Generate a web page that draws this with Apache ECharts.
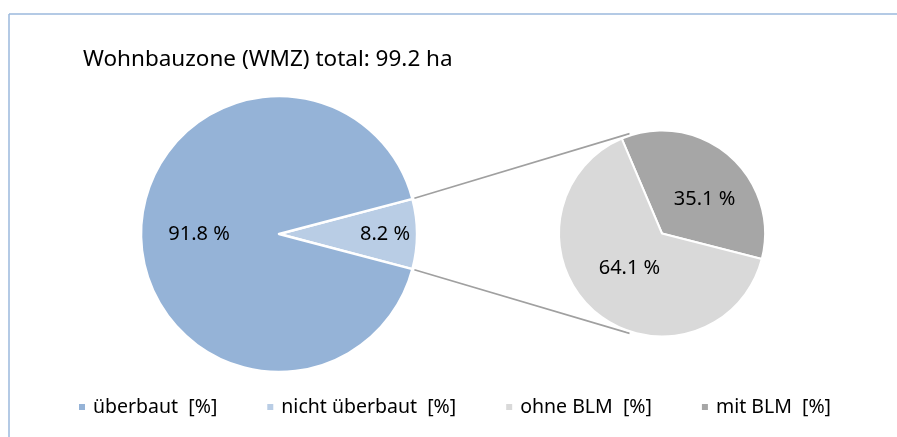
<!DOCTYPE html>
<html>
<head>
<meta charset="utf-8">
<script src="https://cdn.jsdelivr.net/npm/echarts@6/dist/echarts.min.js"></script>
<style>
  html, body { margin: 0; padding: 0; background: #fff; }
  #chart { width: 897px; height: 437px; }
</style>
</head>
<body>
<div id="chart"></div>
<script>
// Werte aus der Grafik
const titleText = 'Wohnbauzone (WMZ) total: 99.2 ha'
const mainNames = ['nicht überbaut  [%]', 'überbaut  [%]']
const mainValues = [8.2, 91.8]
const subNames = ['mit BLM  [%]', 'ohne BLM  [%]']
const subValues = [35.1, 64.1]
const legendNames = ['überbaut  [%]', 'nicht überbaut  [%]', 'ohne BLM  [%]', 'mit BLM  [%]']

const colors = {
  'überbaut  [%]': '#95b3d7',
  'nicht überbaut  [%]': '#b9cde5',
  'ohne BLM  [%]': '#d9d9d9',
  'mit BLM  [%]': '#a6a6a6'
}

// Lage der beiden Kreise
const mainCenter = [279, 234]
const mainR = 138
const subCenter = [662, 233.5]
const subR = 103
const subStart = 113

const font = '"Noto Sans", "DejaVu Sans", sans-serif'

// der kleine Sektor liegt symmetrisch um 0 Grad
const half = mainValues[0] / (mainValues[0] + mainValues[1]) * 180
const mainStart = half

function pt(c, r, deg){
  const a = deg * Math.PI / 180
  return [c[0] + r * Math.cos(a), c[1] - r * Math.sin(a)]
}

const labelOffsets = {
  'überbaut  [%]': [-8, 0],
  'nicht überbaut  [%]': [34, 0],
  'mit BLM  [%]': [7, 7],
  'ohne BLM  [%]': [3, -7]
}

function toData(names, values){
  return names.map((n, i) => ({
    name: n,
    value: values[i],
    itemStyle: { color: colors[n] },
    label: { offset: labelOffsets[n] }
  }))
}

const p1 = pt(mainCenter, mainR + 2, half)
const p2 = pt(mainCenter, mainR + 2, -half)
const q1 = pt(subCenter, subR + 2, 108)
const q2 = pt(subCenter, subR + 2, -108)

const frameStyle = { stroke: '#9bb8dc', lineWidth: 1.5 }
const connStyle = { stroke: '#a0a0a0', lineWidth: 1.6 }

const myChart = echarts.init(document.getElementById('chart'))
myChart.setOption({
  animation: false,
  title: {
    text: titleText,
    left: 83,
    top: 48,
    padding: 0,
    textStyle: { fontFamily: font, fontSize: 22.5, fontWeight: 'normal', color: '#000' }
  },
  legend: {
    data: legendNames,
    left: 77,
    top: 397,
    padding: 0,
    icon: 'rect',
    itemWidth: 8,
    itemHeight: 8,
    itemGap: 48,
    selectedMode: false,
    textStyle: { fontFamily: font, fontSize: 19.5, color: '#000', padding: [0, 0, 0, 2] }
  },
  graphic: [
    { type: 'line', shape: { x1: 9, y1: 14, x2: 897, y2: 14 }, style: frameStyle, silent: true },
    { type: 'line', shape: { x1: 9, y1: 14, x2: 9, y2: 437 }, style: frameStyle, silent: true },
    { type: 'line', shape: { x1: p1[0], y1: p1[1], x2: q1[0], y2: q1[1] }, style: connStyle, silent: true },
    { type: 'line', shape: { x1: p2[0], y1: p2[1], x2: q2[0], y2: q2[1] }, style: connStyle, silent: true }
  ],
  series: [
    {
      type: 'pie',
      center: mainCenter,
      radius: [0, mainR],
      startAngle: mainStart,
      clockwise: true,
      avoidLabelOverlap: false,
      label: {
        show: true,
        position: 'inside',
        formatter: '{c} %',
        fontFamily: font,
        fontSize: 20,
        color: '#000',
        textBorderWidth: 0
      },
      labelLine: { show: false },
      itemStyle: { borderColor: '#fff', borderWidth: 2.5 },
      emphasis: { disabled: true },
      data: toData(mainNames, mainValues)
    },
    {
      type: 'pie',
      center: subCenter,
      radius: [0, subR],
      startAngle: subStart,
      clockwise: true,
      avoidLabelOverlap: false,
      label: {
        show: true,
        position: 'inside',
        formatter: '{c} %',
        fontFamily: font,
        fontSize: 20,
        color: '#000',
        textBorderWidth: 0
      },
      labelLine: { show: false },
      itemStyle: { borderColor: '#fff', borderWidth: 2 },
      emphasis: { disabled: true },
      data: toData(subNames, subValues)
    }
  ]
})
</script>
</body>
</html>
